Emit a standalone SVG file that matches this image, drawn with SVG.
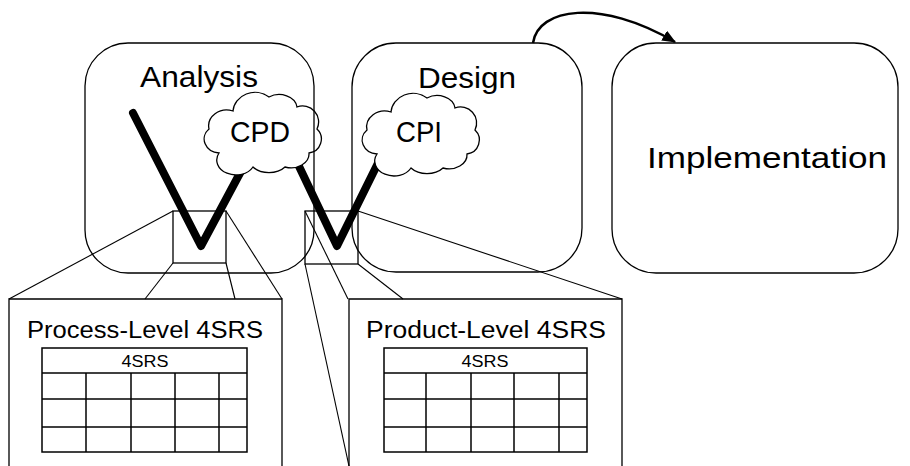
<svg xmlns="http://www.w3.org/2000/svg" width="910" height="466" viewBox="0 0 910 466">
<defs>
<style>
.box{fill:none;stroke:#000;stroke-width:1.3}
.ln{fill:none;stroke:#000;stroke-width:1.1}
.tb{fill:none;stroke:#000;stroke-width:1.5}
.v{fill:none;stroke:#000;stroke-width:8;stroke-linecap:round;stroke-linejoin:round}
.cloud{fill:#fff;stroke:#000;stroke-width:1.3}
text{font-family:"Liberation Sans",Arial,sans-serif;fill:#000}
.big{font-size:29px}
.mid{font-size:23px}
.sm{font-size:16px}
</style>
<marker id="ah" viewBox="0 0 12 10" refX="11" refY="5" markerWidth="5.5" markerHeight="4.6" orient="auto" markerUnits="strokeWidth">
<path d="M0,0 L12,5 L0,10 Z" fill="#000"/>
</marker>
<path id="cl" d="M16,60 A16,14 0 0 1 6,36 A18,16 0 0 1 30,18 A22,20 0 0 1 66,4 A18,14 0 0 1 94,14 A16,16 0 0 1 114,36 A14,14 0 0 1 106,60 A18,14 0 0 1 82,74 A20,14 0 0 1 50,74 A18,14 0 0 1 16,60 Z"/>
</defs>

<g id="v-lines">
<polyline class="v" points="133,113 201,246 247,160"/>
<polyline class="v" points="296,160 337,246 382,155"/>
</g>

<g id="cpd">
<use href="#cl" class="cloud" transform="translate(203,93)"/>
<text class="big" x="260" y="142" text-anchor="middle" textLength="60" lengthAdjust="spacingAndGlyphs">CPD</text>
</g>
<g id="cpi">
<use href="#cl" class="cloud" transform="translate(361,94)"/>
<text class="big" x="419" y="142" text-anchor="middle" textLength="46" lengthAdjust="spacingAndGlyphs">CPI</text>
</g>

<g id="analysis">
<rect class="box" x="85" y="43" width="229" height="230" rx="43" ry="43"/>
<text class="big" x="199" y="87" text-anchor="middle" textLength="118" lengthAdjust="spacingAndGlyphs">Analysis</text>
</g>
<g id="design">
<rect class="box" x="352" y="43" width="230" height="229" rx="44" ry="44"/>
<text class="big" x="467" y="88" text-anchor="middle" textLength="98" lengthAdjust="spacingAndGlyphs">Design</text>
</g>
<g id="implementation">
<rect class="box" x="612" y="43" width="286" height="230" rx="44" ry="44"/>
<text class="big" x="767" y="168" text-anchor="middle" textLength="240" lengthAdjust="spacingAndGlyphs">Implementation</text>
</g>

<g id="zoom-left">
<rect class="box" x="173" y="211" width="53" height="52"/>
</g>
<g id="zoom-right">
<rect class="box" x="305" y="211" width="53" height="53"/>
</g>

<g id="connectors">
<line class="ln" x1="9" y1="299" x2="173" y2="211"/>
<line class="ln" x1="145" y1="299" x2="173" y2="263"/>
<line class="ln" x1="235" y1="299" x2="226" y2="263"/>
<line class="ln" x1="282" y1="299" x2="226" y2="211"/>
<line class="ln" x1="348" y1="299" x2="305" y2="211"/>
<line class="ln" x1="403" y1="299" x2="358" y2="264"/>
<line class="ln" x1="622" y1="299" x2="358" y2="211"/>
<line class="ln" x1="305" y1="264" x2="349" y2="466"/>
<path d="M533,43 C538,8 600,-2 675,42" fill="none" stroke="#000" stroke-width="2.5" marker-end="url(#ah)"/>
</g>

<g id="process-level">
<polyline class="box" points="9,466 9,299 282,299 282,466"/>
<text class="mid" x="145" y="338" text-anchor="middle" textLength="236" lengthAdjust="spacingAndGlyphs">Process-Level 4SRS</text>
<rect class="tb" x="42" y="348" width="205" height="104"/>
<line class="tb" x1="42" y1="373" x2="247" y2="373"/>
<line class="tb" x1="42" y1="399" x2="247" y2="399"/>
<line class="tb" x1="42" y1="427" x2="247" y2="427"/>
<line class="tb" x1="86" y1="373" x2="86" y2="452"/>
<line class="tb" x1="131" y1="373" x2="131" y2="452"/>
<line class="tb" x1="175" y1="373" x2="175" y2="452"/>
<line class="tb" x1="219" y1="373" x2="219" y2="452"/>
<text class="sm" x="145" y="367" text-anchor="middle" textLength="47" lengthAdjust="spacingAndGlyphs">4SRS</text>
</g>

<g id="product-level">
<polyline class="box" points="349,466 349,299 622,299 622,466"/>
<text class="mid" x="486" y="338" text-anchor="middle" textLength="240" lengthAdjust="spacingAndGlyphs">Product-Level 4SRS</text>
<rect class="tb" x="384" y="348" width="203" height="104"/>
<line class="tb" x1="384" y1="373" x2="587" y2="373"/>
<line class="tb" x1="384" y1="399" x2="587" y2="399"/>
<line class="tb" x1="384" y1="427" x2="587" y2="427"/>
<line class="tb" x1="426" y1="373" x2="426" y2="452"/>
<line class="tb" x1="471" y1="373" x2="471" y2="452"/>
<line class="tb" x1="514" y1="373" x2="514" y2="452"/>
<line class="tb" x1="559" y1="373" x2="559" y2="452"/>
<text class="sm" x="485" y="367" text-anchor="middle" textLength="47" lengthAdjust="spacingAndGlyphs">4SRS</text>
</g>
</svg>
